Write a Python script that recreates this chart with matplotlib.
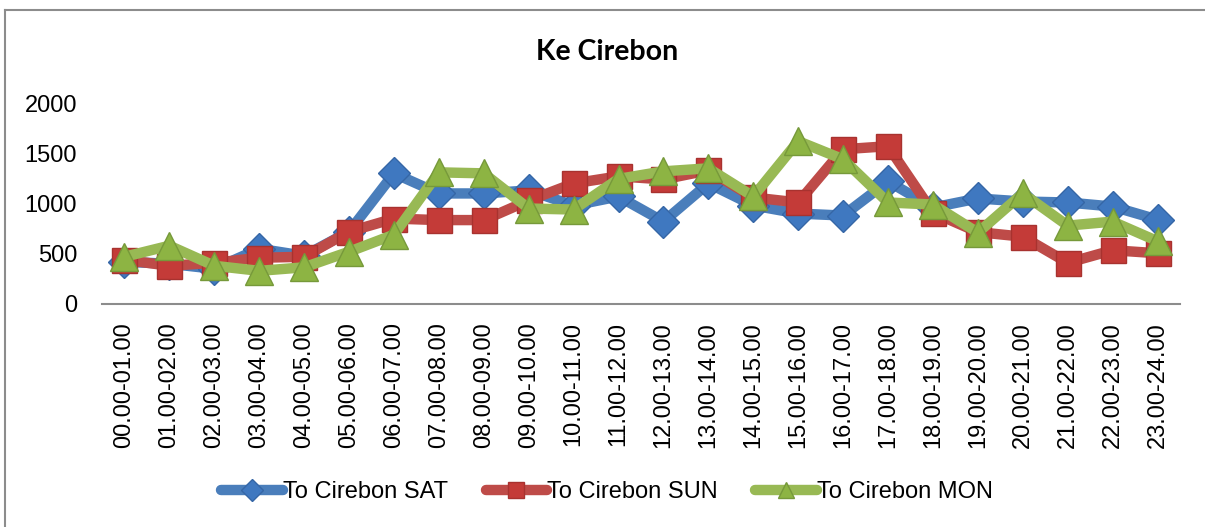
import matplotlib
matplotlib.use("Agg")
import matplotlib.pyplot as plt
from matplotlib.lines import Line2D

# Hourly traffic towards Cirebon
hours = ["00.00-01.00", "01.00-02.00", "02.00-03.00", "03.00-04.00", "04.00-05.00",
         "05.00-06.00", "06.00-07.00", "07.00-08.00", "08.00-09.00", "09.00-10.00",
         "10.00-11.00", "11.00-12.00", "12.00-13.00", "13.00-14.00", "14.00-15.00",
         "15.00-16.00", "16.00-17.00", "17.00-18.00", "18.00-19.00", "19.00-20.00",
         "20.00-21.00", "21.00-22.00", "22.00-23.00", "23.00-24.00"]

sat = [420, 400, 350, 550, 480, 720, 1300, 1100, 1100, 1130, 980, 1070,
       820, 1200, 980, 900, 880, 1220, 960, 1050, 1020, 1010, 970, 840]
sun = [440, 380, 410, 460, 470, 720, 850, 835, 835, 1030, 1200, 1270,
       1240, 1330, 1060, 1010, 1540, 1570, 910, 715, 670, 410, 535, 505]
mon = [470, 580, 380, 330, 365, 520, 690, 1310, 1300, 950, 940, 1245,
       1320, 1350, 1070, 1620, 1440, 1010, 990, 710, 1100, 780, 820, 625]

series_names = ["To Cirebon SAT", "To Cirebon SUN", "To Cirebon MON"]
y_ticks = [0, 500, 1000, 1500, 2000]

W, H = 1205, 527
fig = plt.figure(figsize=(W / 100, H / 100), dpi=100)
fig.patch.set_facecolor("white")

ax = fig.add_axes([102 / W, 1 - 304 / H, (1180 - 102) / W, (304 - 103) / H])

styles = [
    dict(color="#4A7EBB", marker="D", ms=16, mfc="#3F78C0", mec="#3566A6"),
    dict(color="#BE4B48", marker="s", ms=18, mfc="#C43B38", mec="#A8322F"),
    dict(color="#98B954", marker="^", ms=20, mfc="#8DB443", mec="#76993A"),
]

x = list(range(len(hours)))
for i, (vals, st) in enumerate(zip([sat, sun, mon], styles)):
    ax.plot(x, vals, color=st["color"], lw=7.5, solid_capstyle="round",
            solid_joinstyle="round", marker=st["marker"], markersize=st["ms"],
            markerfacecolor=st["mfc"], markeredgecolor=st["mec"],
            markeredgewidth=1.0, zorder=3 + i)

ax.set_xlim(-0.5, len(hours) - 0.5)
ax.set_ylim(0, 2000)
ax.set_yticks(y_ticks)
ax.set_yticklabels([str(v) for v in y_ticks], fontsize=17, family="Liberation Sans")
ax.set_xticks(x)
ax.set_xticklabels(hours, rotation=90, fontsize=17, family="Liberation Sans")
ax.tick_params(axis="y", length=0, pad=18)
ax.tick_params(axis="x", length=0, pad=13)

for side in ["top", "right", "left"]:
    ax.spines[side].set_visible(False)
ax.spines["bottom"].set_color("#8C8C8C")
ax.spines["bottom"].set_linewidth(1.5)

fig.text(607 / W, 1 - 52 / H, "Ke Cirebon", ha="center", va="center",
         fontsize=20.5, fontweight="bold", family="Lato")

legend_marker = {"D": 11, "s": 12, "^": 12}
handles = [Line2D([], [], color=st["color"], lw=7.5, solid_capstyle="round",
                  marker=st["marker"], markersize=legend_marker[st["marker"]],
                  markerfacecolor=st["mfc"], markeredgecolor=st["mec"])
           for st in styles]
fig.legend(handles, series_names, loc="center", bbox_to_anchor=(607 / W, 1 - 492 / H),
           ncol=3, frameon=False, prop={"family": "Liberation Sans", "size": 17},
           handlelength=2.6, handletextpad=0.0, columnspacing=1.6)

# chart frame
fig.add_artist(Line2D([5 / W, 1], [1 - 10 / H, 1 - 10 / H], color="#8C8C8C", lw=1.5))
fig.add_artist(Line2D([5 / W, 5 / W], [0, 1 - 10 / H], color="#8C8C8C", lw=1.5))

fig.savefig("out.png", dpi=100, facecolor="white")
